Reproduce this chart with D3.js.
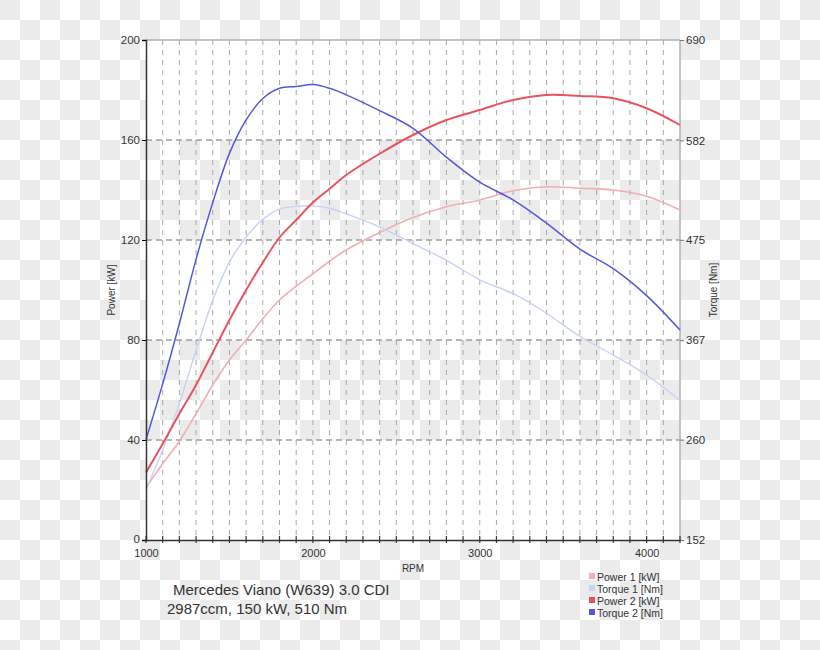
<!DOCTYPE html>
<html><head><meta charset="utf-8">
<script src="https://cdn.jsdelivr.net/npm/d3@7"></script>
<style>body{margin:0;background:#fff}svg{display:block}text{font-family:"Liberation Sans",Arial,sans-serif}</style>
</head><body>
<svg id="c" width="820" height="650"></svg>
<script>
const rpm      = [1000,1100,1200,1300,1400,1500,1600,1700,1800,1900,2000,2100,2200,2400,2600,2800,3000,3200,3400,3600,3800,4000,4200];
const power1   = [21,30.5,39.5,50.5,62,72,80,88.5,96,101.5,106.5,111.5,116,123,129,133.3,136,139.7,141.3,140.7,140,137.5,132];
const torque1  = [206,249,299,356,410,451,478,497,508,511,511.5,509,503,489,471,453,432,417,396,371,351,329.5,302];
const power2   = [27,38.5,50.5,62,75,88,100,111,121,128,135,140.5,146,154.5,162,168,172,176,178,177.6,176.7,172.7,166];
const torque2  = [260,320,385,454,515,568,604,627,638,640,642,638,631,614,595,564,537,518,493,465,444,415,378];
const powerTicks  = [0,40,80,120,160,200];
const torqueTicks = [152,260,367,475,582,690];
const rpmTicks    = [1000,2000,3000,4000];
const seriesNames = ["Power 1 [kW]","Torque 1 [Nm]","Power 2 [kW]","Torque 2 [Nm]"];
const seriesColors= ["#f2aeb2","#c6d3f5","#e8535f","#5457dc"];

const svg = d3.select("#c");
const L=146,R=680,T=40,B=540;
const x = d3.scaleLinear().domain([1000,4200]).range([L,R]);
const yP = d3.scaleLinear().domain([0,200]).range([B,T]);
const yT = d3.scaleLinear().domain([152,690]).range([B,T]);

// checkerboard background
const defs = svg.append("defs");
const pat = defs.append("pattern").attr("id","chk").attr("patternUnits","userSpaceOnUse").attr("width",40).attr("height",40);
pat.append("rect").attr("width",40).attr("height",40).attr("fill","#fff");
pat.append("rect").attr("x",0).attr("y",0).attr("width",20).attr("height",20).attr("fill","#ebebeb");
pat.append("rect").attr("x",20).attr("y",20).attr("width",20).attr("height",20).attr("fill","#ebebeb");
svg.append("rect").attr("width",820).attr("height",650).attr("fill","url(#chk)");
// plot white background with transparent bands
svg.append("rect").attr("x",L).attr("y",T).attr("width",R-L).attr("height",B-T).attr("fill","#fff");
[[160,120],[80,40]].forEach(([a,b])=>{
  svg.append("rect").attr("x",L).attr("y",yP(a)).attr("width",R-L).attr("height",yP(b)-yP(a)).attr("fill","url(#chk)");
});

// grid
const g = svg.append("g");
d3.range(1100,4200,100).forEach(v=>{
  g.append("line").attr("x1",x(v)).attr("x2",x(v)).attr("y1",T).attr("y2",B)
   .attr("stroke","#a8a8a8").attr("stroke-width",1).attr("stroke-dasharray","5,5");
});
powerTicks.slice(1,-1).forEach(v=>{
  g.append("line").attr("x1",L).attr("x2",R).attr("y1",yP(v)).attr("y2",yP(v))
   .attr("stroke","#a0a0a0").attr("stroke-width",1.3).attr("stroke-dasharray","6,4");
});
// borders
svg.append("line").attr("x1",L).attr("x2",R).attr("y1",T).attr("y2",T).attr("stroke","#b0b0b0").attr("stroke-width",1.5);
svg.append("line").attr("x1",R).attr("x2",R).attr("y1",T).attr("y2",B).attr("stroke","#b0b0b0").attr("stroke-width",1.5);

// lines
const data = [power1,torque1,power2,torque2];
const scales=[yP,yT,yP,yT];
const widths=[1.6,1.4,2,1.5];
data.forEach((arr,i)=>{
  const line = d3.line().x((d,j)=>x(rpm[j])).y(d=>scales[i](d)).curve(d3.curveCatmullRom.alpha(0.5));
  svg.append("path").attr("d",line(arr)).attr("fill","none").attr("stroke",seriesColors[i]).attr("stroke-width",widths[i]);
});

// axes
const axL = d3.axisLeft(yP).tickValues(powerTicks).tickSize(4).tickPadding(2);
const gl = svg.append("g").attr("transform",`translate(${L},0)`).call(axL);
gl.select(".domain").attr("stroke","#333").attr("stroke-width",1.5);
gl.selectAll("text").attr("font-size",11.5).attr("fill","#333");
gl.selectAll(".tick").filter(d=>d===0).select("text").attr("dy","0.2em");

const axR = d3.axisRight(yT).tickValues(torqueTicks).tickSize(4).tickPadding(2);
const gr = svg.append("g").attr("transform",`translate(${R},0)`).call(axR);
gr.select(".domain").remove();
gr.selectAll("line").attr("stroke","#777");
gr.selectAll("text").attr("font-size",11.5).attr("fill","#333");

const axB = d3.axisBottom(x).tickValues(rpmTicks).tickSize(0).tickPadding(9).tickFormat(d3.format("d"));
const gb = svg.append("g").attr("transform",`translate(0,${B})`).call(axB);
gb.select(".domain").attr("stroke","#333").attr("stroke-width",1.5);
gb.selectAll("text").attr("font-size",11).attr("fill","#333");
d3.range(1000,4300,100).forEach(v=>{
  svg.append("line").attr("x1",x(v)).attr("x2",x(v)).attr("y1",B-4).attr("y2",B+3).attr("stroke","#333").attr("stroke-width",1.2);
});

// axis titles
svg.append("text").attr("x",(L+R)/2).attr("y",572).attr("text-anchor","middle").attr("font-size",10).attr("fill","#333").text("RPM");
svg.append("text").attr("transform",`translate(115,${(T+B)/2}) rotate(-90)`).attr("text-anchor","middle").attr("font-size",10).attr("fill","#333").text("Power [kW]");
svg.append("text").attr("transform",`translate(717,${(T+B)/2}) rotate(-90)`).attr("text-anchor","middle").attr("font-size",10).attr("fill","#333").text("Torque [Nm]");

// title
svg.append("text").attr("x",173).attr("y",595).attr("font-size",15).attr("fill","#333").text("Mercedes Viano (W639) 3.0 CDI");
svg.append("text").attr("x",167).attr("y",614).attr("font-size",15).attr("fill","#333").text("2987ccm, 150 kW, 510 Nm");

// legend
seriesNames.forEach((n,i)=>{
  const yy = 577 + i*12;
  svg.append("rect").attr("x",589).attr("y",yy-4).attr("width",6).attr("height",6).attr("fill",seriesColors[i]);
  svg.append("text").attr("x",597).attr("y",yy+3.5).attr("font-size",10.5).attr("fill","#333").text(n);
});
</script>
</body></html>
